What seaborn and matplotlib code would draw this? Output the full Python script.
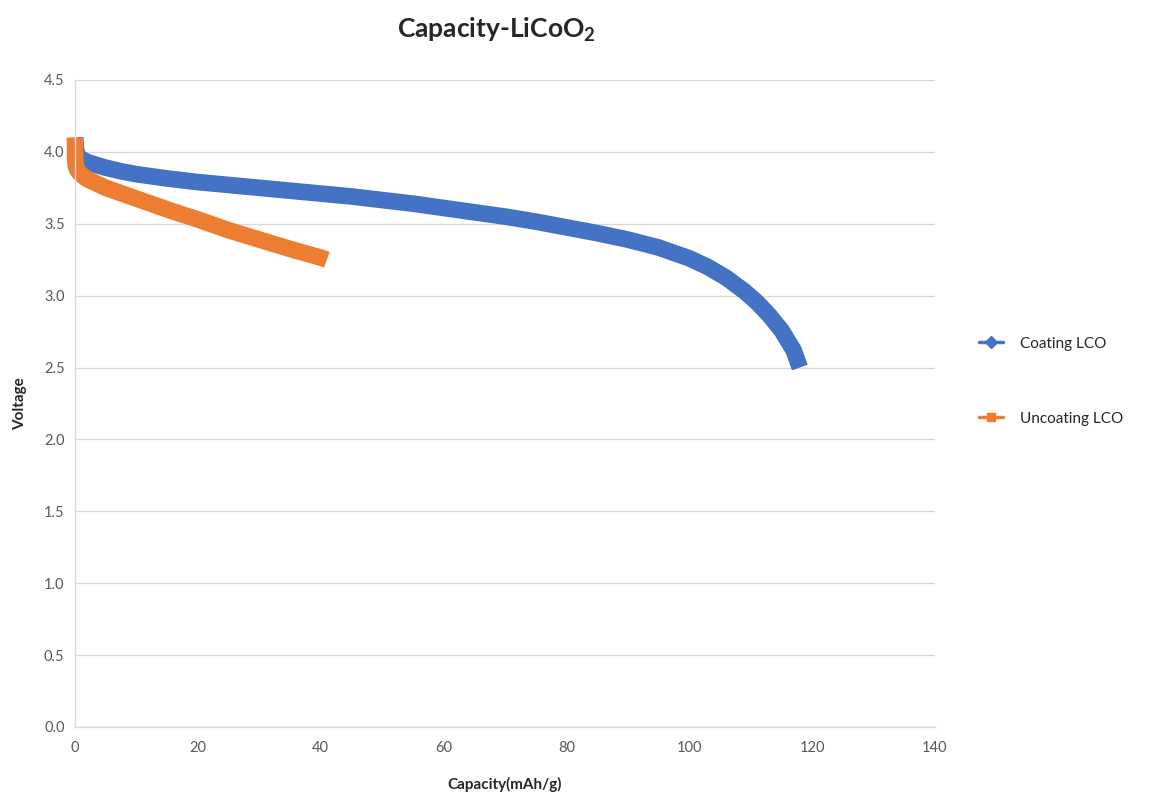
import matplotlib
matplotlib.use("Agg")
import matplotlib.pyplot as plt
from matplotlib.lines import Line2D
import seaborn as sns
import pandas as pd

# ---------------------------------------------------------
# DATA
# ---------------------------------------------------------
coat_cap = [0, 0.2, 0.5, 1, 2, 3, 5, 7.5, 10, 15, 20, 25, 30, 35, 40, 45,
            50, 55, 60, 65, 70, 75, 80, 85, 90, 95, 100, 103, 106, 109,
            111, 113, 115, 117, 118]
coat_volt = [4.10, 4.00, 3.97, 3.95, 3.93, 3.915, 3.89, 3.865, 3.845, 3.815,
             3.79, 3.77, 3.75, 3.73, 3.71, 3.69, 3.665, 3.64, 3.61, 3.58,
             3.55, 3.515, 3.475, 3.435, 3.39, 3.335, 3.26, 3.20, 3.125,
             3.03, 2.955, 2.865, 2.76, 2.62, 2.50]

uncoat_cap = [0, 0.02, 0.1, 0.3, 0.7, 1.2, 2, 3, 5, 8, 12, 16, 20, 25, 30,
              35, 40, 41]
uncoat_volt = [4.10, 3.95, 3.91, 3.88, 3.855, 3.835, 3.81, 3.79, 3.75, 3.705,
               3.645, 3.585, 3.53, 3.455, 3.39, 3.325, 3.265, 3.25]

series_names = ["Coating LCO", "Uncoating LCO"]
series_colors = ["#4472C4", "#ED7D31"]
series_markers = ["D", "s"]

x_ticks = [0, 20, 40, 60, 80, 100, 120, 140]
y_ticks = [0.0, 0.5, 1.0, 1.5, 2.0, 2.5, 3.0, 3.5, 4.0, 4.5]

df = pd.concat([
    pd.DataFrame({"cap": coat_cap, "volt": coat_volt, "series": series_names[0]}),
    pd.DataFrame({"cap": uncoat_cap, "volt": uncoat_volt, "series": series_names[1]}),
])

# ---------------------------------------------------------
# PLOTTING
# ---------------------------------------------------------
sns.set_theme(style="white")
plt.rcParams["font.family"] = ["Lato", "DejaVu Sans"]
plt.rcParams["mathtext.fontset"] = "custom"
plt.rcParams["mathtext.rm"] = "Lato"
plt.rcParams["mathtext.bf"] = "Lato:bold"

fig = plt.figure(figsize=(11.49, 7.96), dpi=100)
ax = fig.add_axes([0.0653, 0.0867, 0.7484, 0.8128])

sns.lineplot(data=df, x="cap", y="volt", hue="series", hue_order=series_names,
             palette=series_colors, sort=False, estimator=None,
             linewidth=12, legend=False, ax=ax)
for line in ax.get_lines():
    line.set_solid_capstyle("butt")
    line.set_solid_joinstyle("round")
    line.set_clip_on(False)

ax.set_xlim(0, 140)
ax.set_ylim(0, 4.5)
ax.set_xticks(x_ticks)
ax.set_yticks(y_ticks)
ax.set_yticklabels([f"{v:.1f}" for v in y_ticks])
ax.yaxis.grid(True, color="#d9d9d9", linewidth=1)
ax.xaxis.grid(False)
ax.set_axisbelow(True)

for s in ["top", "right"]:
    ax.spines[s].set_visible(False)
for s in ["left", "bottom"]:
    ax.spines[s].set_color("#d9d9d9")
    ax.spines[s].set_linewidth(1)

ax.tick_params(axis="both", which="both", length=4, width=1, color="#d9d9d9",
               labelsize=10.5, labelcolor="#595959", direction="out")
ax.tick_params(axis="x", pad=6)

ax.set_xlabel("Capacity(mAh/g)", fontsize=11, fontweight="bold", labelpad=16)
ax.set_ylabel("Voltage", fontsize=11, fontweight="bold", labelpad=12)

fig.text(0.432, 0.962, r"Capacity-LiCoO$_\mathbf{2}$", ha="center", va="center",
         fontsize=19, fontweight="bold")

handles = [Line2D([0], [0], color=c, marker=m, markersize=6, linewidth=2.5)
           for c, m in zip(series_colors, series_markers)]
fig.legend(handles, series_names, loc="center left",
           bbox_to_anchor=(0.840, 0.521), frameon=False, fontsize=11,
           labelspacing=4.0, handlelength=1.6, handletextpad=1.1)

plt.savefig("out.png", dpi=100)
